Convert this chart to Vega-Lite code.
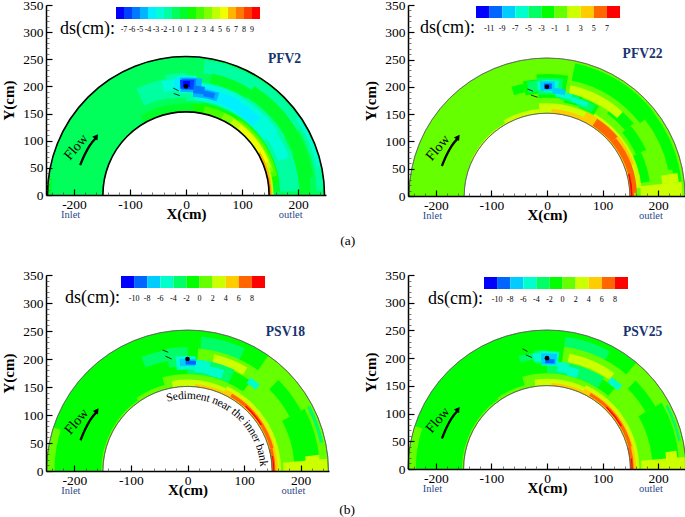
{"$schema":"https://vega.github.io/schema/vega-lite/v6.json","background":"white","padding":{"left":1,"top":-2,"right":0,"bottom":0},"bounds":"flush","align":"none","columns":2,"spacing":{"column":79,"row":79},"resolve":{"scale":{"color":"independent","theta":"independent","radius":"independent"},"legend":{"color":"independent"}},"config":{"view":{"stroke":null},"font":"Liberation Serif","legend":{"gradientLength":144,"gradientThickness":12},"axis":{"grid":false,"labelFont":"Liberation Serif","titleFont":"Liberation Serif"}},
"datasets":{
"c1":[{"t0":-90,"t1":90,"r0":150,"r1":250,"ds":-0.5},{"t0":-90,"t1":-83,"r0":243,"r1":250,"ds":0.5},{"t0":8,"t1":35,"r0":222,"r1":246,"ds":-1.5},{"t0":35,"t1":60,"r0":228,"r1":247,"ds":-1.5},{"t0":60,"t1":88,"r0":236,"r1":248,"ds":-1.5},{"t0":55,"t1":78,"r0":242,"r1":247,"ds":-2.5},{"t0":-25,"t1":-10,"r0":178,"r1":212,"ds":-1.5},{"t0":-10,"t1":0,"r0":176,"r1":220,"ds":-1.5},{"t0":0,"t1":30,"r0":170,"r1":206,"ds":-1.5},{"t0":30,"t1":60,"r0":170,"r1":208,"ds":-1.5},{"t0":60,"t1":88,"r0":168,"r1":205,"ds":-1.5},{"t0":-12,"t1":-4,"r0":190,"r1":210,"ds":-2.5},{"t0":-4,"t1":5,"r0":184,"r1":216,"ds":-2.5},{"t0":5,"t1":30,"r0":172,"r1":204,"ds":-2.5},{"t0":30,"t1":55,"r0":172,"r1":202,"ds":-2.5},{"t0":55,"t1":70,"r0":178,"r1":198,"ds":-2.5},{"t0":-6,"t1":6,"r0":190,"r1":212,"ds":-3.5},{"t0":5,"t1":15,"r0":180,"r1":198,"ds":-3.5},{"t0":15,"t1":30,"r0":176,"r1":196,"ds":-3.5},{"t0":30,"t1":44,"r0":174,"r1":194,"ds":-3.5},{"t0":12,"t1":32,"r0":206,"r1":224,"ds":0.5},{"t0":32,"t1":82,"r0":208,"r1":232,"ds":0.5},{"t0":70,"t1":90,"r0":205,"r1":225,"ds":0.5},{"t0":-30,"t1":10,"r0":150,"r1":165,"ds":0.5},{"t0":10,"t1":88,"r0":150,"r1":170,"ds":0.5},{"t0":5,"t1":30,"r0":150,"r1":166,"ds":1.5},{"t0":30,"t1":82,"r0":150,"r1":170,"ds":1.5},{"t0":12,"t1":35,"r0":150,"r1":164,"ds":2.5},{"t0":35,"t1":78,"r0":150,"r1":168,"ds":2.5},{"t0":25,"t1":75,"r0":150,"r1":164,"ds":3.5},{"t0":32,"t1":72,"r0":150,"r1":162,"ds":4.5},{"t0":38,"t1":68,"r0":152,"r1":161,"ds":5.5},{"t0":72,"t1":90,"r0":150,"r1":158,"ds":4.5},{"t0":60,"t1":90,"r0":150,"r1":155,"ds":6.5},{"t0":78,"t1":90,"r0":150,"r1":153,"ds":7.5},{"t0":-3,"t1":8,"r0":186,"r1":212,"ds":-4.5},{"t0":4,"t1":18,"r0":178,"r1":194,"ds":-4.5},{"t0":-2,"t1":5,"r0":190,"r1":210,"ds":-5.5},{"t0":4,"t1":10,"r0":184,"r1":198,"ds":-5.5},{"t0":10,"t1":16,"r0":181,"r1":191,"ds":-5.5},{"t0":-3,"t1":4,"r0":192,"r1":208,"ds":-6.5},{"t0":-1.5,"t1":2,"r0":195,"r1":206,"ds":-7.5}],
"c2":[{"t0":-90,"t1":90,"r0":150,"r1":250,"ds":0},{"t0":12,"t1":52,"r0":214,"r1":246,"ds":-2},{"t0":52,"t1":78,"r0":225,"r1":245,"ds":-2},{"t0":78,"t1":84,"r0":232,"r1":245,"ds":-2},{"t0":36,"t1":50,"r0":185,"r1":205,"ds":-2},{"t0":50,"t1":65,"r0":178,"r1":198,"ds":-2},{"t0":65,"t1":82,"r0":170,"r1":188,"ds":-2},{"t0":12,"t1":42,"r0":190,"r1":205,"ds":2},{"t0":-18,"t1":-12,"r0":192,"r1":208,"ds":-2},{"t0":-12,"t1":-5,"r0":186,"r1":212,"ds":-2},{"t0":-5,"t1":10,"r0":178,"r1":221,"ds":-2},{"t0":10,"t1":20,"r0":172,"r1":190,"ds":-2},{"t0":20,"t1":30,"r0":170,"r1":188,"ds":-2},{"t0":-10,"t1":-5,"r0":190,"r1":210,"ds":-4},{"t0":-5,"t1":8,"r0":184,"r1":214,"ds":-4},{"t0":8,"t1":18,"r0":176,"r1":190,"ds":-4},{"t0":18,"t1":28,"r0":172,"r1":186,"ds":-4},{"t0":-5,"t1":-2,"r0":192,"r1":208,"ds":-6},{"t0":-2,"t1":6,"r0":188,"r1":210,"ds":-6},{"t0":5,"t1":14,"r0":180,"r1":190,"ds":-6},{"t0":14,"t1":24,"r0":176,"r1":185,"ds":-6},{"t0":-3.5,"t1":4,"r0":191,"r1":208,"ds":-8},{"t0":3,"t1":10,"r0":186,"r1":196,"ds":-8},{"t0":-1.5,"t1":2.5,"r0":194,"r1":204,"ds":-10},{"t0":-65,"t1":-30,"r0":150,"r1":152,"ds":2},{"t0":-30,"t1":-5,"r0":150,"r1":158,"ds":2},{"t0":-5,"t1":30,"r0":150,"r1":168,"ds":2},{"t0":30,"t1":85,"r0":150,"r1":172,"ds":2},{"t0":3,"t1":25,"r0":150,"r1":158,"ds":4},{"t0":25,"t1":70,"r0":150,"r1":168,"ds":4},{"t0":70,"t1":90,"r0":150,"r1":160,"ds":4},{"t0":33,"t1":50,"r0":152,"r1":167,"ds":6},{"t0":50,"t1":88,"r0":152,"r1":163,"ds":6},{"t0":80,"t1":90,"r0":151,"r1":158,"ds":6},{"t0":75,"t1":90,"r0":152,"r1":155,"ds":8},{"t0":84,"t1":90,"r0":170,"r1":245,"ds":2},{"t0":80,"t1":84,"r0":210,"r1":240,"ds":2}],
"c3":[{"t0":-90,"t1":90,"r0":150,"r1":250,"ds":-1},{"t0":-90,"t1":-72,"r0":236,"r1":250,"ds":1},{"t0":-90,"t1":-35,"r0":150,"r1":153,"ds":1},{"t0":6,"t1":25,"r0":216,"r1":240,"ds":-3},{"t0":35,"t1":90,"r0":165,"r1":250,"ds":1},{"t0":45,"t1":62,"r0":205,"r1":228,"ds":-1},{"t0":62,"t1":85,"r0":190,"r1":235,"ds":-1},{"t0":62,"t1":78,"r0":240,"r1":246,"ds":-3},{"t0":5,"t1":40,"r0":195,"r1":218,"ds":1},{"t0":13,"t1":30,"r0":197,"r1":212,"ds":3},{"t0":-22,"t1":-10,"r0":198,"r1":218,"ds":-3},{"t0":-10,"t1":0,"r0":186,"r1":220,"ds":-3},{"t0":0,"t1":25,"r0":172,"r1":198,"ds":-3},{"t0":-6,"t1":4,"r0":180,"r1":204,"ds":-5},{"t0":4,"t1":12,"r0":176,"r1":198,"ds":-5},{"t0":12,"t1":20,"r0":174,"r1":190,"ds":-5},{"t0":34,"t1":40,"r0":188,"r1":200,"ds":-5},{"t0":-4,"t1":4,"r0":186,"r1":199,"ds":-7},{"t0":-1,"t1":4.5,"r0":189,"r1":196,"ds":-9},{"t0":-35,"t1":-15,"r0":150,"r1":158,"ds":1},{"t0":-15,"t1":35,"r0":150,"r1":172,"ds":1},{"t0":35,"t1":90,"r0":150,"r1":174,"ds":1},{"t0":-10,"t1":25,"r0":150,"r1":162,"ds":3},{"t0":25,"t1":90,"r0":150,"r1":166,"ds":3},{"t0":5,"t1":25,"r0":150,"r1":155,"ds":5},{"t0":25,"t1":90,"r0":150,"r1":160,"ds":5},{"t0":30,"t1":75,"r0":152,"r1":158,"ds":7},{"t0":42,"t1":58,"r0":153,"r1":155.5,"ds":9},{"t0":75,"t1":90,"r0":150,"r1":156,"ds":7},{"t0":80,"t1":90,"r0":152,"r1":154,"ds":9},{"t0":85,"t1":90,"r0":170,"r1":248,"ds":3},{"t0":83,"t1":86,"r0":210,"r1":235,"ds":3}],
"c4":[{"t0":-90,"t1":90,"r0":150,"r1":250,"ds":-1},{"t0":-90,"t1":-72,"r0":236,"r1":250,"ds":1},{"t0":-90,"t1":-35,"r0":150,"r1":153,"ds":1},{"t0":8,"t1":28,"r0":218,"r1":240,"ds":-3},{"t0":40,"t1":90,"r0":165,"r1":250,"ds":1},{"t0":45,"t1":60,"r0":205,"r1":225,"ds":-1},{"t0":60,"t1":85,"r0":190,"r1":238,"ds":-1},{"t0":62,"t1":78,"r0":241,"r1":246,"ds":-3},{"t0":8,"t1":45,"r0":190,"r1":222,"ds":1},{"t0":11,"t1":35,"r0":196,"r1":211,"ds":3},{"t0":-14,"t1":-6,"r0":198,"r1":210,"ds":-3},{"t0":-6,"t1":0,"r0":190,"r1":214,"ds":-3},{"t0":0,"t1":32,"r0":172,"r1":194,"ds":-3},{"t0":-7,"t1":-3,"r0":194,"r1":210,"ds":-5},{"t0":-3,"t1":6,"r0":186,"r1":212,"ds":-5},{"t0":6,"t1":12,"r0":176,"r1":194,"ds":-5},{"t0":12,"t1":18,"r0":172,"r1":188,"ds":-5},{"t0":35,"t1":42,"r0":190,"r1":202,"ds":-5},{"t0":-3,"t1":5,"r0":188,"r1":208,"ds":-7},{"t0":-1,"t1":4,"r0":190,"r1":198,"ds":-9},{"t0":-35,"t1":-15,"r0":150,"r1":156,"ds":1},{"t0":-15,"t1":40,"r0":150,"r1":172,"ds":1},{"t0":-8,"t1":30,"r0":150,"r1":162,"ds":3},{"t0":25,"t1":90,"r0":150,"r1":166,"ds":3},{"t0":3,"t1":25,"r0":150,"r1":155,"ds":5},{"t0":25,"t1":90,"r0":150,"r1":160,"ds":5},{"t0":30,"t1":75,"r0":152,"r1":158,"ds":7},{"t0":44,"t1":60,"r0":153,"r1":155.5,"ds":9},{"t0":75,"t1":90,"r0":150,"r1":156,"ds":7},{"t0":83,"t1":90,"r0":152,"r1":154,"ds":9},{"t0":85,"t1":90,"r0":170,"r1":248,"ds":3},{"t0":82,"t1":86,"r0":215,"r1":235,"ds":3}],
"outline":[{"t0":-90,"t1":90,"r":150},{"t0":-90,"t1":90,"r":250}],
"arrow":[{"X":-189,"Y":55},{"X":-181,"Y":74},{"X":-172,"Y":91},{"X":-160,"Y":106}],
"head":[{"X":-160,"Y":108}],
"center":[{"X":0,"Y":200}],
"ends":[{"X":-206,"Y":-36,"txt":"Inlet"},{"X":187,"Y":-36,"txt":"outlet"}],
"flow":[{"X":-196,"Y":88,"txt":"Flow"}],
"dash":[{"p":"PFV2","id":1,"X":-23,"Y":197},{"p":"PFV2","id":1,"X":-13,"Y":192},{"p":"PFV2","id":2,"X":-22,"Y":187},{"p":"PFV2","id":2,"X":-11,"Y":183},{"p":"PFV22","id":1,"X":-35,"Y":196},{"p":"PFV22","id":1,"X":-25,"Y":192},{"p":"PFV22","id":2,"X":-29,"Y":185},{"p":"PFV22","id":2,"X":-17,"Y":181},{"p":"PSV18","id":1,"X":-44,"Y":216},{"p":"PSV18","id":1,"X":-34,"Y":212},{"p":"PSV18","id":2,"X":-39,"Y":205},{"p":"PSV18","id":2,"X":-28,"Y":200},{"p":"PSV25","id":1,"X":-44,"Y":217},{"p":"PSV25","id":1,"X":-35,"Y":212},{"p":"PSV25","id":2,"X":-38,"Y":206},{"p":"PSV25","id":2,"X":-27,"Y":201}],
"names":[{"p":"PFV2","X":176,"Y":250},{"p":"PFV22","X":172,"Y":260},{"p":"PSV18","X":173,"Y":248},{"p":"PSV25","X":172,"Y":247}],
"captions":[{"p":"PFV2","X":289,"Y":-85,"txt":"(a)"},{"p":"PSV18","X":282,"Y":-70,"txt":"(b)"}],
"curved":[{"c":"S","X":-31.4,"Y":130.3,"a":-13.57},{"c":"e","X":-21.4,"Y":132.3,"a":-9.2},{"c":"d","X":-11.8,"Y":133.5,"a":-5.07},{"c":"i","X":-3.9,"Y":133.9,"a":-1.67},{"c":"m","X":6.9,"Y":133.8,"a":2.95},{"c":"e","X":19.3,"Y":132.6,"a":8.3},{"c":"n","X":28.8,"Y":130.9,"a":12.42},{"c":"t","X":36.6,"Y":128.9,"a":15.83},{"c":"n","X":48.9,"Y":124.8,"a":21.41},{"c":"e","X":57.8,"Y":120.9,"a":25.54},{"c":"a","X":65.8,"Y":116.7,"a":29.43},{"c":"r","X":72.6,"Y":112.6,"a":32.82},{"c":"t","X":81.9,"Y":106,"a":37.68},{"c":"h","X":88.1,"Y":101,"a":41.08},{"c":"e","X":95.1,"Y":94.4,"a":45.21},{"c":"i","X":103.5,"Y":85.1,"a":50.56},{"c":"n","X":108.4,"Y":78.8,"a":53.96},{"c":"n","X":114,"Y":70.4,"a":58.33},{"c":"e","X":118.8,"Y":61.9,"a":62.46},{"c":"r","X":122.3,"Y":54.8,"a":65.86},{"c":"b","X":127.2,"Y":42.1,"a":71.69},{"c":"a","X":129.9,"Y":32.8,"a":75.81},{"c":"n","X":131.9,"Y":23.4,"a":79.94},{"c":"k","X":133.3,"Y":13.3,"a":84.32}]
},
"concat":[
{"width":280,"height":190,"resolve":{"axis":{"x":"independent","y":"independent"}},"layer":[
{"data":{"name":"c1"},"mark":{"type":"arc"},"encoding":{"x":{"datum":0,"type":"quantitative","scale":{"domain":[-250,250],"nice":false,"zero":false},"axis":null},"y":{"datum":0,"type":"quantitative","scale":{"domain":[0,350],"nice":false,"zero":false},"axis":null},"theta":{"field":"t0","type":"quantitative","stack":null,"scale":{"domain":[-90,90],"range":[-1.5707963,1.5707963]}},"theta2":{"field":"t1"},"radius":{"field":"r1","type":"quantitative","scale":{"type":"linear","domain":[0,250],"range":[0,138.5],"zero":false}},"radius2":{"field":"r0"},"color":{"field":"ds","type":"quantitative","scale":{"type":"threshold","domain":[-7,-6,-5,-4,-3,-2,-1,0,1,2,3,4,5,6,7,8,9],"range":["#0000ff","#0040ff","#0078ff","#00b4ff","#00f0ff","#00ffd8","#00ffa0","#00ff5a","#00ff28","#10ff00","#48ff00","#80ff00","#c0ff00","#f0ff00","#ffb400","#ff7800","#ff3c00","#ff0000"]},"legend":{"title":[" ","ds(cm):"],"orient":"none","legendX":14,"legendY":2,"direction":"horizontal","titleOrient":"left","titleFontSize":18,"titleFontWeight":"normal","titleFont":"Liberation Serif","titleColor":"black","titleAnchor":"start","titleBaseline":"top","titleLineHeight":13,"titlePadding":1,"labelFontSize":8,"labelFont":"Liberation Serif","labelColor":"black","labelOverlap":false,"labelOffset":7,"gradientStrokeWidth":0,"labelExpr":"isFinite(datum.value)?''+datum.value:''"}}}},
{"data":{"name":"outline"},"mark":{"type":"arc","stroke":"black","strokeWidth":1.6,"filled":false},"encoding":{"x":{"datum":0,"type":"quantitative","scale":{"domain":[-250,250],"nice":false,"zero":false},"axis":null},"y":{"datum":0,"type":"quantitative","scale":{"domain":[0,350],"nice":false,"zero":false},"axis":null},"theta":{"field":"t0","type":"quantitative","stack":null,"scale":{"domain":[-90,90],"range":[-1.5707963,1.5707963]}},"theta2":{"field":"t1"},"radius":{"field":"r","type":"quantitative","scale":{"type":"linear","domain":[0,250],"range":[0,138.5],"zero":false}},"radius2":{"field":"r"}}},
{"resolve":{"axis":{"x":"independent","y":"independent"}},"encoding":{"x":{"field":"X","type":"quantitative","scale":{"domain":[-250,250],"nice":false,"zero":false},"axis":null},"y":{"field":"Y","type":"quantitative","scale":{"domain":[0,350],"nice":false,"zero":false},"axis":null}},"layer":[
{"data":{"name":"center"},"mark":{"type":"point","filled":true,"color":"black","size":22,"opacity":1},"encoding":{"x":{"field":"X","type":"quantitative","axis":{"orient":"bottom","zindex":1,"values":[-200,-100,0,100,200],"title":"X(cm)","titleFontSize":15,"titleFontWeight":"bold","titleColor":"black","titlePadding":-4,"labelFontSize":13.5,"labelColor":"black","labelPadding":8,"labelFlush":false,"labelExpr":"''+datum.value","tickSize":-6,"tickColor":"black","tickWidth":1.2,"domainColor":"black","domainWidth":1.5}},"y":{"field":"Y","type":"quantitative","axis":{"orient":"left","zindex":1,"values":[0,50,100,150,200,250,300,350],"title":"Y(cm)","titleFontSize":15,"titleFontWeight":"bold","titleColor":"black","titlePadding":6,"labelFontSize":13.5,"labelColor":"black","labelPadding":9,"labelFlush":false,"tickSize":-6,"tickColor":"black","tickWidth":1.2,"domainColor":"black","domainWidth":1.5}}}},
{"data":{"name":"center"},"mark":{"type":"point","opacity":0},"encoding":{"x":{"field":"X","type":"quantitative","axis":{"orient":"bottom","zindex":1,"values":[-240,-220,-180,-160,-140,-120,-80,-60,-40,-20,20,40,60,80,120,140,160,180,220,240],"title":null,"labels":false,"domain":false,"tickSize":-3,"tickColor":"#444","tickWidth":0.7}},"y":{"field":"Y","type":"quantitative","axis":{"orient":"left","zindex":1,"values":[10,20,30,40,60,70,80,90,110,120,130,140,160,170,180,190,210,220,230,240,260,270,280,290,310,320,330,340],"title":null,"labels":false,"domain":false,"tickSize":-3,"tickColor":"#444","tickWidth":0.7}}}},
{"data":{"name":"arrow"},"mark":{"type":"line","color":"black","strokeWidth":2.3,"interpolate":"monotone"}},
{"data":{"name":"head"},"mark":{"type":"point","shape":"triangle-up","filled":true,"color":"black","size":40,"angle":35,"opacity":1}},
{"data":{"name":"dash"},"transform":[{"filter":"datum.p==='PFV2'"}],"mark":{"type":"line","color":"black","strokeWidth":0.8},"encoding":{"detail":{"field":"id"}}},
{"data":{"name":"ends"},"mark":{"type":"text","font":"Liberation Serif","fontSize":10.5,"color":"#2d4a8a"},"encoding":{"text":{"field":"txt"}}},
{"data":{"name":"flow"},"mark":{"type":"text","font":"Liberation Serif","fontSize":14,"color":"black","angle":310},"encoding":{"text":{"field":"txt"}}},
{"data":{"name":"names"},"transform":[{"filter":"datum.p==='PFV2'"}],"mark":{"type":"text","font":"Liberation Serif","fontSize":13.6,"fontWeight":"bold","color":"#17346f"},"encoding":{"text":{"field":"p"}}},
{"data":{"name":"captions"},"transform":[{"filter":"datum.p==='PFV2'"}],"mark":{"type":"text","font":"Liberation Serif","fontSize":13.5,"color":"black"},"encoding":{"text":{"field":"txt"}}}
]}
]},
{"width":278,"height":191,"resolve":{"axis":{"x":"independent","y":"independent"}},"layer":[
{"data":{"name":"c2"},"mark":{"type":"arc"},"encoding":{"x":{"datum":0,"type":"quantitative","scale":{"domain":[-250,250],"nice":false,"zero":false},"axis":null},"y":{"datum":0,"type":"quantitative","scale":{"domain":[0,350],"nice":false,"zero":false},"axis":null},"theta":{"field":"t0","type":"quantitative","stack":null,"scale":{"domain":[-90,90],"range":[-1.5707963,1.5707963]}},"theta2":{"field":"t1"},"radius":{"field":"r1","type":"quantitative","scale":{"type":"linear","domain":[0,250],"range":[0,138],"zero":false}},"radius2":{"field":"r0"},"color":{"field":"ds","type":"quantitative","scale":{"type":"threshold","domain":[-11,-9,-7,-5,-3,-1,1,3,5,7],"range":["#0000ff","#0066ff","#00ccff","#00ffcc","#00ff66","#00ff00","#66ff00","#ccff00","#ffcc00","#ff6600","#ff0000"]},"legend":{"title":[" ","ds(cm):"],"orient":"none","legendX":12,"legendY":1,"direction":"horizontal","titleOrient":"left","titleFontSize":18,"titleFontWeight":"normal","titleFont":"Liberation Serif","titleColor":"black","titleAnchor":"start","titleBaseline":"top","titleLineHeight":13,"titlePadding":1,"labelFontSize":8,"labelFont":"Liberation Serif","labelColor":"black","labelOverlap":false,"labelOffset":7,"gradientStrokeWidth":0,"labelExpr":"isFinite(datum.value)?''+datum.value:''"}}}},
{"data":{"name":"outline"},"mark":{"type":"arc","stroke":"#555","strokeWidth":0.6,"filled":false},"encoding":{"x":{"datum":0,"type":"quantitative","scale":{"domain":[-250,250],"nice":false,"zero":false},"axis":null},"y":{"datum":0,"type":"quantitative","scale":{"domain":[0,350],"nice":false,"zero":false},"axis":null},"theta":{"field":"t0","type":"quantitative","stack":null,"scale":{"domain":[-90,90],"range":[-1.5707963,1.5707963]}},"theta2":{"field":"t1"},"radius":{"field":"r","type":"quantitative","scale":{"type":"linear","domain":[0,250],"range":[0,138],"zero":false}},"radius2":{"field":"r"}}},
{"resolve":{"axis":{"x":"independent","y":"independent"}},"encoding":{"x":{"field":"X","type":"quantitative","scale":{"domain":[-250,250],"nice":false,"zero":false},"axis":null},"y":{"field":"Y","type":"quantitative","scale":{"domain":[0,350],"nice":false,"zero":false},"axis":null}},"layer":[
{"data":{"name":"center"},"mark":{"type":"point","filled":true,"color":"black","size":22,"opacity":1},"encoding":{"x":{"field":"X","type":"quantitative","axis":{"orient":"bottom","zindex":1,"values":[-200,-100,0,100,200],"title":"X(cm)","titleFontSize":15,"titleFontWeight":"bold","titleColor":"black","titlePadding":-4,"labelFontSize":13.5,"labelColor":"black","labelPadding":8,"labelFlush":false,"labelExpr":"''+datum.value","tickSize":-6,"tickColor":"black","tickWidth":1.2,"domainColor":"black","domainWidth":1.5}},"y":{"field":"Y","type":"quantitative","axis":{"orient":"left","zindex":1,"values":[0,50,100,150,200,250,300,350],"title":"Y(cm)","titleFontSize":15,"titleFontWeight":"bold","titleColor":"black","titlePadding":6,"labelFontSize":13.5,"labelColor":"black","labelPadding":9,"labelFlush":false,"tickSize":-6,"tickColor":"black","tickWidth":1.2,"domainColor":"black","domainWidth":1.5}}}},
{"data":{"name":"center"},"mark":{"type":"point","opacity":0},"encoding":{"x":{"field":"X","type":"quantitative","axis":{"orient":"bottom","zindex":1,"values":[-240,-220,-180,-160,-140,-120,-80,-60,-40,-20,20,40,60,80,120,140,160,180,220,240],"title":null,"labels":false,"domain":false,"tickSize":-3,"tickColor":"#444","tickWidth":0.7}},"y":{"field":"Y","type":"quantitative","axis":{"orient":"left","zindex":1,"values":[10,20,30,40,60,70,80,90,110,120,130,140,160,170,180,190,210,220,230,240,260,270,280,290,310,320,330,340],"title":null,"labels":false,"domain":false,"tickSize":-3,"tickColor":"#444","tickWidth":0.7}}}},
{"data":{"name":"arrow"},"mark":{"type":"line","color":"black","strokeWidth":2.3,"interpolate":"monotone"}},
{"data":{"name":"head"},"mark":{"type":"point","shape":"triangle-up","filled":true,"color":"black","size":40,"angle":35,"opacity":1}},
{"data":{"name":"dash"},"transform":[{"filter":"datum.p==='PFV22'"}],"mark":{"type":"line","color":"black","strokeWidth":0.8},"encoding":{"detail":{"field":"id"}}},
{"data":{"name":"ends"},"mark":{"type":"text","font":"Liberation Serif","fontSize":10.5,"color":"#2d4a8a"},"encoding":{"text":{"field":"txt"}}},
{"data":{"name":"flow"},"mark":{"type":"text","font":"Liberation Serif","fontSize":14,"color":"black","angle":310},"encoding":{"text":{"field":"txt"}}},
{"data":{"name":"names"},"transform":[{"filter":"datum.p==='PFV22'"}],"mark":{"type":"text","font":"Liberation Serif","fontSize":13.6,"fontWeight":"bold","color":"#17346f"},"encoding":{"text":{"field":"p"}}}
]}
]},
{"width":283,"height":196,"resolve":{"axis":{"x":"independent","y":"independent"}},"layer":[
{"data":{"name":"c3"},"mark":{"type":"arc"},"encoding":{"x":{"datum":0,"type":"quantitative","scale":{"domain":[-250,250],"nice":false,"zero":false},"axis":null},"y":{"datum":0,"type":"quantitative","scale":{"domain":[0,350],"nice":false,"zero":false},"axis":null},"theta":{"field":"t0","type":"quantitative","stack":null,"scale":{"domain":[-90,90],"range":[-1.5707963,1.5707963]}},"theta2":{"field":"t1"},"radius":{"field":"r1","type":"quantitative","scale":{"type":"linear","domain":[0,250],"range":[0,141],"zero":false}},"radius2":{"field":"r0"},"color":{"field":"ds","type":"quantitative","scale":{"type":"threshold","domain":[-10,-8,-6,-4,-2,0,2,4,6,8],"range":["#0000ff","#0066ff","#00ccff","#00ffcc","#00ff66","#00ff00","#66ff00","#ccff00","#ffcc00","#ff6600","#ff0000"]},"legend":{"title":[" ","ds(cm):"],"orient":"none","legendX":19,"legendY":1,"direction":"horizontal","titleOrient":"left","titleFontSize":18,"titleFontWeight":"normal","titleFont":"Liberation Serif","titleColor":"black","titleAnchor":"start","titleBaseline":"top","titleLineHeight":13,"titlePadding":1,"labelFontSize":8,"labelFont":"Liberation Serif","labelColor":"black","labelOverlap":false,"labelOffset":7,"gradientStrokeWidth":0,"labelExpr":"isFinite(datum.value)?''+datum.value:''"}}}},
{"data":{"name":"outline"},"mark":{"type":"arc","stroke":"#555","strokeWidth":0.6,"filled":false},"encoding":{"x":{"datum":0,"type":"quantitative","scale":{"domain":[-250,250],"nice":false,"zero":false},"axis":null},"y":{"datum":0,"type":"quantitative","scale":{"domain":[0,350],"nice":false,"zero":false},"axis":null},"theta":{"field":"t0","type":"quantitative","stack":null,"scale":{"domain":[-90,90],"range":[-1.5707963,1.5707963]}},"theta2":{"field":"t1"},"radius":{"field":"r","type":"quantitative","scale":{"type":"linear","domain":[0,250],"range":[0,141],"zero":false}},"radius2":{"field":"r"}}},
{"resolve":{"axis":{"x":"independent","y":"independent"}},"encoding":{"x":{"field":"X","type":"quantitative","scale":{"domain":[-250,250],"nice":false,"zero":false},"axis":null},"y":{"field":"Y","type":"quantitative","scale":{"domain":[0,350],"nice":false,"zero":false},"axis":null}},"layer":[
{"data":{"name":"center"},"mark":{"type":"point","filled":true,"color":"black","size":22,"opacity":1},"encoding":{"x":{"field":"X","type":"quantitative","axis":{"orient":"bottom","zindex":1,"values":[-200,-100,0,100,200],"title":"X(cm)","titleFontSize":15,"titleFontWeight":"bold","titleColor":"black","titlePadding":-4,"labelFontSize":13.5,"labelColor":"black","labelPadding":8,"labelFlush":false,"labelExpr":"''+datum.value","tickSize":-6,"tickColor":"black","tickWidth":1.2,"domainColor":"black","domainWidth":1.5}},"y":{"field":"Y","type":"quantitative","axis":{"orient":"left","zindex":1,"values":[0,50,100,150,200,250,300,350],"title":"Y(cm)","titleFontSize":15,"titleFontWeight":"bold","titleColor":"black","titlePadding":6,"labelFontSize":13.5,"labelColor":"black","labelPadding":9,"labelFlush":false,"tickSize":-6,"tickColor":"black","tickWidth":1.2,"domainColor":"black","domainWidth":1.5}}}},
{"data":{"name":"center"},"mark":{"type":"point","opacity":0},"encoding":{"x":{"field":"X","type":"quantitative","axis":{"orient":"bottom","zindex":1,"values":[-240,-220,-180,-160,-140,-120,-80,-60,-40,-20,20,40,60,80,120,140,160,180,220,240],"title":null,"labels":false,"domain":false,"tickSize":-3,"tickColor":"#444","tickWidth":0.7}},"y":{"field":"Y","type":"quantitative","axis":{"orient":"left","zindex":1,"values":[10,20,30,40,60,70,80,90,110,120,130,140,160,170,180,190,210,220,230,240,260,270,280,290,310,320,330,340],"title":null,"labels":false,"domain":false,"tickSize":-3,"tickColor":"#444","tickWidth":0.7}}}},
{"data":{"name":"arrow"},"mark":{"type":"line","color":"black","strokeWidth":2.3,"interpolate":"monotone"}},
{"data":{"name":"head"},"mark":{"type":"point","shape":"triangle-up","filled":true,"color":"black","size":40,"angle":35,"opacity":1}},
{"data":{"name":"dash"},"transform":[{"filter":"datum.p==='PSV18'"}],"mark":{"type":"line","color":"black","strokeWidth":0.8},"encoding":{"detail":{"field":"id"}}},
{"data":{"name":"ends"},"mark":{"type":"text","font":"Liberation Serif","fontSize":10.5,"color":"#2d4a8a"},"encoding":{"text":{"field":"txt"}}},
{"data":{"name":"flow"},"mark":{"type":"text","font":"Liberation Serif","fontSize":14,"color":"black","angle":310},"encoding":{"text":{"field":"txt"}}},
{"data":{"name":"names"},"transform":[{"filter":"datum.p==='PSV18'"}],"mark":{"type":"text","font":"Liberation Serif","fontSize":13.6,"fontWeight":"bold","color":"#17346f"},"encoding":{"text":{"field":"p"}}},
{"data":{"name":"captions"},"transform":[{"filter":"datum.p==='PSV18'"}],"mark":{"type":"text","font":"Liberation Serif","fontSize":13.5,"color":"black"},"encoding":{"text":{"field":"txt"}}},
{"data":{"name":"curved"},"mark":{"type":"text","font":"Liberation Serif","fontSize":11.6,"color":"black","baseline":"middle"},"encoding":{"text":{"field":"c"},"angle":{"field":"a","type":"quantitative","scale":null}}}
]}
]},
{"width":278,"height":194,"resolve":{"axis":{"x":"independent","y":"independent"}},"layer":[
{"data":{"name":"c4"},"mark":{"type":"arc"},"encoding":{"x":{"datum":0,"type":"quantitative","scale":{"domain":[-250,250],"nice":false,"zero":false},"axis":null},"y":{"datum":0,"type":"quantitative","scale":{"domain":[0,350],"nice":false,"zero":false},"axis":null},"theta":{"field":"t0","type":"quantitative","stack":null,"scale":{"domain":[-90,90],"range":[-1.5707963,1.5707963]}},"theta2":{"field":"t1"},"radius":{"field":"r1","type":"quantitative","scale":{"type":"linear","domain":[0,250],"range":[0,139],"zero":false}},"radius2":{"field":"r0"},"color":{"field":"ds","type":"quantitative","scale":{"type":"threshold","domain":[-10,-8,-6,-4,-2,0,2,4,6,8],"range":["#0000ff","#0066ff","#00ccff","#00ffcc","#00ff66","#00ff00","#66ff00","#ccff00","#ffcc00","#ff6600","#ff0000"]},"legend":{"title":[" ","ds(cm):"],"orient":"none","legendX":20,"legendY":2,"direction":"horizontal","titleOrient":"left","titleFontSize":18,"titleFontWeight":"normal","titleFont":"Liberation Serif","titleColor":"black","titleAnchor":"start","titleBaseline":"top","titleLineHeight":13,"titlePadding":1,"labelFontSize":8,"labelFont":"Liberation Serif","labelColor":"black","labelOverlap":false,"labelOffset":7,"gradientStrokeWidth":0,"labelExpr":"isFinite(datum.value)?''+datum.value:''"}}}},
{"data":{"name":"outline"},"mark":{"type":"arc","stroke":"#555","strokeWidth":0.6,"filled":false},"encoding":{"x":{"datum":0,"type":"quantitative","scale":{"domain":[-250,250],"nice":false,"zero":false},"axis":null},"y":{"datum":0,"type":"quantitative","scale":{"domain":[0,350],"nice":false,"zero":false},"axis":null},"theta":{"field":"t0","type":"quantitative","stack":null,"scale":{"domain":[-90,90],"range":[-1.5707963,1.5707963]}},"theta2":{"field":"t1"},"radius":{"field":"r","type":"quantitative","scale":{"type":"linear","domain":[0,250],"range":[0,139],"zero":false}},"radius2":{"field":"r"}}},
{"resolve":{"axis":{"x":"independent","y":"independent"}},"encoding":{"x":{"field":"X","type":"quantitative","scale":{"domain":[-250,250],"nice":false,"zero":false},"axis":null},"y":{"field":"Y","type":"quantitative","scale":{"domain":[0,350],"nice":false,"zero":false},"axis":null}},"layer":[
{"data":{"name":"center"},"mark":{"type":"point","filled":true,"color":"black","size":22,"opacity":1},"encoding":{"x":{"field":"X","type":"quantitative","axis":{"orient":"bottom","zindex":1,"values":[-200,-100,0,100,200],"title":"X(cm)","titleFontSize":15,"titleFontWeight":"bold","titleColor":"black","titlePadding":-4,"labelFontSize":13.5,"labelColor":"black","labelPadding":8,"labelFlush":false,"labelExpr":"''+datum.value","tickSize":-6,"tickColor":"black","tickWidth":1.2,"domainColor":"black","domainWidth":1.5}},"y":{"field":"Y","type":"quantitative","axis":{"orient":"left","zindex":1,"values":[0,50,100,150,200,250,300,350],"title":"Y(cm)","titleFontSize":15,"titleFontWeight":"bold","titleColor":"black","titlePadding":6,"labelFontSize":13.5,"labelColor":"black","labelPadding":9,"labelFlush":false,"tickSize":-6,"tickColor":"black","tickWidth":1.2,"domainColor":"black","domainWidth":1.5}}}},
{"data":{"name":"center"},"mark":{"type":"point","opacity":0},"encoding":{"x":{"field":"X","type":"quantitative","axis":{"orient":"bottom","zindex":1,"values":[-240,-220,-180,-160,-140,-120,-80,-60,-40,-20,20,40,60,80,120,140,160,180,220,240],"title":null,"labels":false,"domain":false,"tickSize":-3,"tickColor":"#444","tickWidth":0.7}},"y":{"field":"Y","type":"quantitative","axis":{"orient":"left","zindex":1,"values":[10,20,30,40,60,70,80,90,110,120,130,140,160,170,180,190,210,220,230,240,260,270,280,290,310,320,330,340],"title":null,"labels":false,"domain":false,"tickSize":-3,"tickColor":"#444","tickWidth":0.7}}}},
{"data":{"name":"arrow"},"mark":{"type":"line","color":"black","strokeWidth":2.3,"interpolate":"monotone"}},
{"data":{"name":"head"},"mark":{"type":"point","shape":"triangle-up","filled":true,"color":"black","size":40,"angle":35,"opacity":1}},
{"data":{"name":"dash"},"transform":[{"filter":"datum.p==='PSV25'"}],"mark":{"type":"line","color":"black","strokeWidth":0.8},"encoding":{"detail":{"field":"id"}}},
{"data":{"name":"ends"},"mark":{"type":"text","font":"Liberation Serif","fontSize":10.5,"color":"#2d4a8a"},"encoding":{"text":{"field":"txt"}}},
{"data":{"name":"flow"},"mark":{"type":"text","font":"Liberation Serif","fontSize":14,"color":"black","angle":310},"encoding":{"text":{"field":"txt"}}},
{"data":{"name":"names"},"transform":[{"filter":"datum.p==='PSV25'"}],"mark":{"type":"text","font":"Liberation Serif","fontSize":13.6,"fontWeight":"bold","color":"#17346f"},"encoding":{"text":{"field":"p"}}}
]}
]}
]}
